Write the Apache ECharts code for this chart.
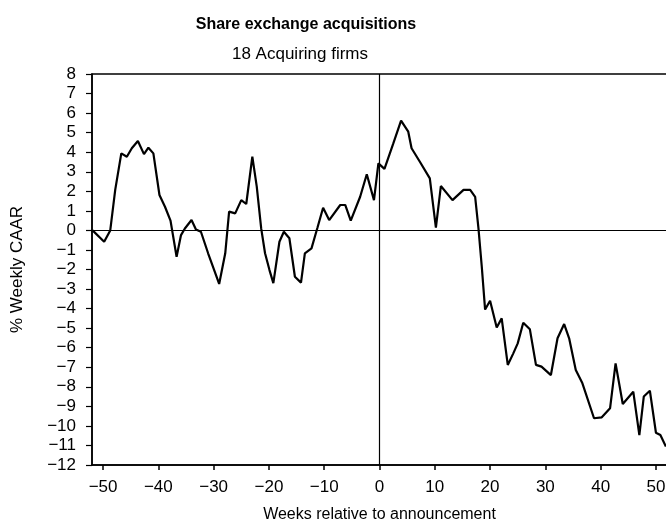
<!DOCTYPE html>
<html>
<head>
<meta charset="utf-8">
<script src="https://cdn.jsdelivr.net/npm/echarts@6/dist/echarts.min.js"></script>
<style>
html,body{margin:0;padding:0;background:#fff;}
#chart{width:666px;height:523px;}
</style>
</head>
<body>
<div id="chart"></div>
<script>
// Weeks relative to announcement (x) and % weekly CAAR (y)
const weeks = [
  -51.9, -49.8, -48.7, -47.8, -46.7, -45.7, -44.8, -43.7, -42.6, -41.8,
  -40.9, -39.8, -38.8, -37.8, -36.7, -35.9, -35.2, -34.0, -33.2, -32.3,
  -31.0, -29.9, -29.0, -27.9, -27.2, -26.1, -25.0, -24.1, -23.0, -22.2,
  -21.4, -20.7, -19.9, -19.2, -18.1, -17.3, -16.3, -15.3, -14.2, -13.5,
  -12.3, -11.2, -10.2, -9.1, -7.1, -6.2, -5.2, -3.5, -2.3, -1.0,
  -0.2, 0.9, 2.5, 3.9, 5.2, 5.8, 7.3, 9.1, 10.2, 11.1,
  13.2, 15.2, 16.4, 17.3, 17.9, 18.5, 19.1, 20.0, 21.2, 22.1,
  23.2, 24.2, 25.0, 26.0, 27.2, 28.3, 29.3, 31.0, 32.2, 33.4,
  34.3, 35.5, 36.7, 38.8, 40.2, 41.7, 42.7, 44.0, 45.9, 47.0,
  47.8, 48.9, 50.0, 50.8, 51.8
];
const caar = [
  0.00, -0.58, 0.00, 2.07, 3.94, 3.77, 4.20, 4.57, 3.90, 4.23,
  3.94, 1.81, 1.21, 0.50, -1.35, -0.24, 0.10, 0.53, 0.05, -0.07,
  -1.17, -2.03, -2.74, -1.17, 0.96, 0.87, 1.55, 1.35, 3.77, 2.24,
  0.10, -1.17, -2.03, -2.70, -0.58, -0.07, -0.40, -2.37, -2.67, -1.17,
  -0.92, 0.16, 1.16, 0.53, 1.30, 1.30, 0.50, 1.72, 2.87, 1.55,
  3.43, 3.15, 4.45, 5.61, 5.05, 4.20, 3.51, 2.66, 0.14, 2.27,
  1.55, 2.07, 2.07, 1.72, 0.10, -1.86, -4.05, -3.60, -4.97, -4.50,
  -6.88, -6.29, -5.78, -4.72, -5.06, -6.88, -6.97, -7.40, -5.52, -4.79,
  -5.52, -7.14, -7.82, -9.61, -9.56, -9.10, -6.80, -8.88, -8.25, -10.47,
  -8.50, -8.20, -10.35, -10.47, -11.06
];
const xTickLabels = [-50, -40, -30, -20, -10, 0, 10, 20, 30, 40, 50];
const titleText = 'Share exchange acquisitions';
const subtitleText = '18 Acquiring firms';
const xName = 'Weeks relative to announcement';
const yName = '% Weekly CAAR';

const points = weeks.map((w, i) => [w, caar[i]]);
const fmt = v => String(v).replace('-', '\u2212');
const FONT = 'Liberation Sans, Arial, Helvetica, sans-serif';

const chart = echarts.init(document.getElementById('chart'), null, {renderer: 'canvas'});
chart.setOption({
  animation: false,
  backgroundColor: '#fff',
  title: [
    {text: titleText, left: 301, top: 12, textAlign: 'center',
     textStyle: {fontFamily: FONT, fontSize: 16, fontWeight: 'bold', color: '#000'}},
    {text: subtitleText, left: 295, top: 41, textAlign: 'center',
     textStyle: {fontFamily: FONT, fontSize: 17, fontWeight: 'normal', color: '#000'}}
  ],
  grid: {left: 92, top: 74, width: 575, height: 391, show: true,
         containLabel: false, outerBoundsMode: 'none',
         borderColor: '#000', borderWidth: 1.5, backgroundColor: 'transparent'},
  xAxis: {
    type: 'value', min: -52, max: 52,
    name: xName, nameLocation: 'middle', nameGap: 42,
    nameTextStyle: {fontFamily: FONT, fontSize: 16, color: '#000'},
    axisLine: {show: true, onZero: false, lineStyle: {color: '#000', width: 1.5}},
    axisTick: {show: true, inside: false, length: 5, customValues: xTickLabels,
               lineStyle: {color: '#000', width: 1.5}},
    axisLabel: {customValues: xTickLabels, formatter: fmt, margin: 14,
                fontFamily: FONT, fontSize: 17, color: '#000'},
    splitLine: {show: false}
  },
  yAxis: {
    type: 'value', min: -12, max: 8, interval: 1,
    name: yName, nameLocation: 'middle', nameGap: 66, nameRotate: 90,
    nameTextStyle: {fontFamily: FONT, fontSize: 17, color: '#000'},
    axisLine: {show: true, onZero: false, lineStyle: {color: '#000', width: 1.5}},
    axisTick: {show: true, inside: false, length: 6, lineStyle: {color: '#000', width: 1.2}},
    axisLabel: {formatter: fmt, margin: 16, fontFamily: FONT, fontSize: 17, color: '#000'},
    splitLine: {show: false}
  },
  series: [{
    type: 'line', data: points, showSymbol: false, symbol: 'none',
    lineStyle: {color: '#000', width: 2.2}, z: 3,
    markLine: {
      silent: true, symbol: 'none', label: {show: false},
      lineStyle: {color: '#000', width: 1.2, type: 'solid'},
      data: [{yAxis: 0}, {xAxis: 0}]
    }
  }]
});
</script>
</body>
</html>
